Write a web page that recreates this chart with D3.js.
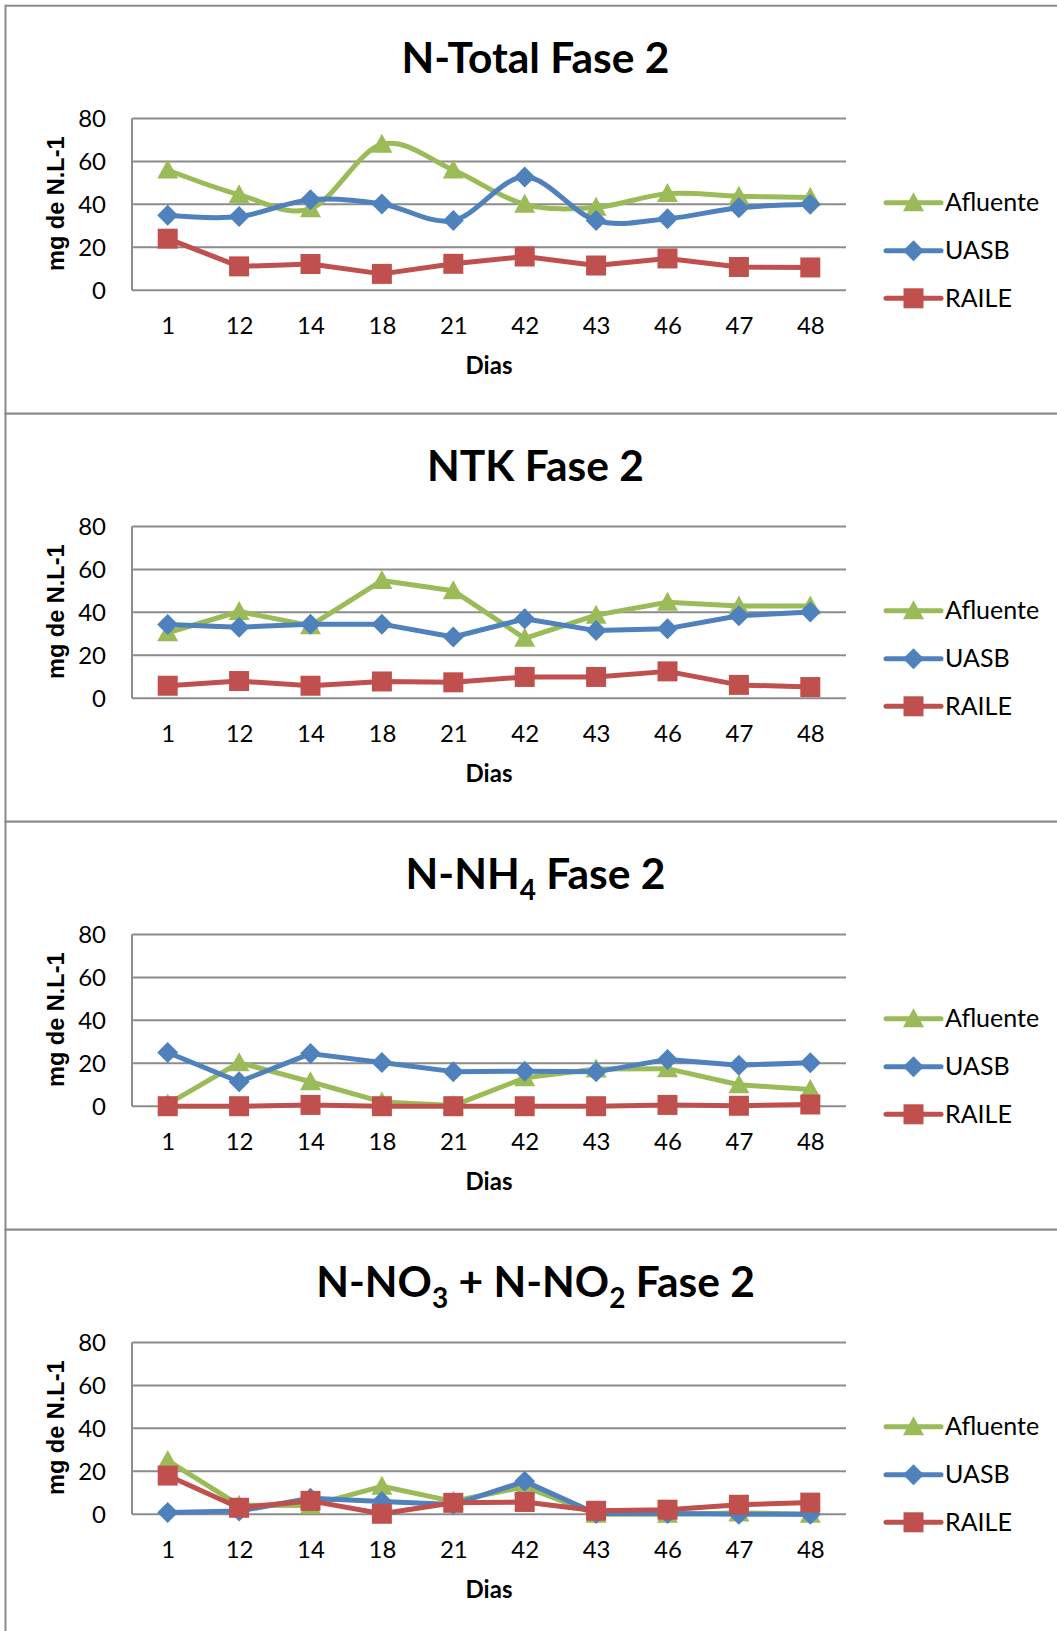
<!DOCTYPE html>
<html>
<head>
<meta charset="utf-8">
<script src="https://cdn.jsdelivr.net/npm/d3@7"></script>
<style>
  body { margin: 0; background: #fff; }
  svg { display: block; }
</style>
</head>
<body>
<svg id="chart" width="1057" height="1631"></svg>
<script>
// Sampling days (x categories) and y-axis ticks
const categories = ["1", "12", "14", "18", "21", "42", "43", "46", "47", "48"];
const yTicks = [0, 20, 40, 60, 80];
const seriesNames = ["Afluente", "UASB", "RAILE"];

// N-Total, Fase 2 (mg N/L)
const nTotalAfluente = [56, 44.5, 38, 68, 56, 40, 38.6, 45, 43.8, 43.2];
const nTotalUasb     = [34.9, 34.3, 42.2, 40.2, 32.5, 52.7, 32.5, 33.3, 38.4, 40.1];
const nTotalRaile    = [24, 11.1, 12.2, 7.6, 12.3, 15.7, 11.5, 14.8, 10.8, 10.6];

// NTK, Fase 2
const ntkAfluente = [30.5, 40.4, 33.8, 54.8, 50.1, 27.9, 38.7, 44.7, 43, 43];
const ntkUasb     = [34.3, 33.1, 34.5, 34.5, 28.5, 37, 31.5, 32.4, 38.4, 40.2];
const ntkRaile    = [5.8, 8, 5.8, 7.8, 7.4, 9.9, 9.9, 12.5, 6.2, 5.2];

// N-NH4, Fase 2
const nh4Afluente = [1, 20.3, 11.4, 2, 0.3, 13.2, 17.3, 17.5, 10, 7.8];
const nh4Uasb     = [25, 11.4, 24.5, 20.4, 16.1, 16.3, 16, 21.8, 19.1, 20.3];
const nh4Raile    = [0, 0, 0.6, 0, 0, 0, 0, 0.6, 0.2, 0.8];

// N-NO3 + N-NO2, Fase 2
const noxAfluente = [25, 4.2, 4, 13, 6, 12.8, 0, 0, 0.6, 0];
const noxUasb     = [0.8, 1.5, 7.4, 5.9, 4.5, 15.3, 0.3, 0.3, 0, 0];
const noxRaile    = [18, 3, 6.2, 0.2, 5.3, 5.7, 1.6, 2.1, 4.4, 5.4];

// Chart titles, split into normal / subscript pieces
const titleNTotal = [["N-Total Fase 2", false]];
const titleNtk    = [["NTK Fase 2", false]];
const titleNh4    = [["N-NH", false], ["4", true], [" Fase 2", false]];
const titleNox    = [["N-NO", false], ["3", true], [" + N-NO", false], ["2", true], [" Fase 2", false]];

const panels = [
  { title: titleNTotal, values: [nTotalAfluente, nTotalUasb, nTotalRaile], smooth: [true, true, false] },
  { title: titleNtk,    values: [ntkAfluente, ntkUasb, ntkRaile],          smooth: [false, false, false] },
  { title: titleNh4,    values: [nh4Afluente, nh4Uasb, nh4Raile],          smooth: [false, false, false] },
  { title: titleNox,    values: [noxAfluente, noxUasb, noxRaile],          smooth: [false, false, false] }
];

const colors = ["#9BBB59", "#4F81BD", "#C0504D"];
const markers = ["triangle", "diamond", "square"];

const FONT = "Lato, 'Open Sans', sans-serif";
const svg = d3.select("#chart");

const panelH = 408;
const panelTop0 = 5.7;
const plot = { left: 132, right: 846, top: 112.8, bottom: 284.5 };

const x = d3.scalePoint().domain(categories).range([plot.left, plot.right]).padding(0.5);

function markerPath(kind, cx, cy) {
  if (kind === "triangle") {
    return `M${cx},${cy - 10.5}L${cx + 10.5},${cy + 8.5}L${cx - 10.5},${cy + 8.5}Z`;
  }
  if (kind === "diamond") {
    return `M${cx},${cy - 10.5}L${cx + 10.5},${cy}L${cx},${cy + 10.5}L${cx - 10.5},${cy}Z`;
  }
  return `M${cx - 10},${cy - 10}h20v20h-20Z`;
}

panels.forEach((p, i) => {
  const top = panelTop0 + i * panelH;
  const g = svg.append("g").attr("transform", `translate(0,${top})`);

  // panel frame (runs past the right edge)
  g.append("rect")
    .attr("x", 5.5).attr("y", 0)
    .attr("width", 1120).attr("height", panelH)
    .attr("fill", "#fff")
    .attr("stroke", "#8a8a8a").attr("stroke-width", 2);

  const y = d3.scaleLinear().domain([0, 80]).range([plot.bottom, plot.top]);

  // title
  const t = g.append("text")
    .attr("x", 535.5).attr("y", 67)
    .attr("text-anchor", "middle")
    .attr("font-family", FONT).attr("font-weight", 700)
    .attr("font-size", 42.5).attr("fill", "#000");
  let shifted = false;
  p.title.forEach(([txt, sub]) => {
    const ts = t.append("tspan").text(txt);
    if (sub && !shifted) { ts.attr("dy", 11).attr("font-size", 28); shifted = true; }
    else if (!sub && shifted) { ts.attr("dy", -11); shifted = false; }
    else if (sub) { ts.attr("font-size", 28); }
  });

  // gridlines
  g.append("g").selectAll("line").data(yTicks).join("line")
    .attr("x1", plot.left).attr("x2", plot.right)
    .attr("y1", d => y(d)).attr("y2", d => y(d))
    .attr("stroke", "#8c8c8c").attr("stroke-width", 2);

  // y axis line
  g.append("line")
    .attr("x1", plot.left).attr("x2", plot.left)
    .attr("y1", y(80)).attr("y2", y(0))
    .attr("stroke", "#8c8c8c").attr("stroke-width", 2);

  // y tick labels
  const yAxis = d3.axisLeft(y).tickValues(yTicks).tickSize(0).tickPadding(0).tickFormat(d3.format("d"));
  const ya = g.append("g").attr("transform", `translate(106,0)`).call(yAxis);
  ya.select(".domain").remove();
  ya.selectAll("text")
    .attr("font-family", FONT).attr("font-size", 24).attr("fill", "#000")
    .attr("dy", "0.35em");

  // x tick labels
  const xAxis = d3.axisBottom(x).tickSize(0).tickPadding(0);
  const xa = g.append("g").attr("transform", `translate(0,320)`).call(xAxis);
  xa.select(".domain").remove();
  xa.selectAll("text")
    .attr("font-family", FONT).attr("font-size", 24).attr("fill", "#000")
    .attr("dy", "0.35em");

  // axis titles
  g.append("text")
    .attr("x", 489).attr("y", 368)
    .attr("text-anchor", "middle")
    .attr("font-family", FONT).attr("font-weight", 700).attr("font-size", 24)
    .text("Dias");

  g.append("text")
    .attr("transform", `translate(64,198) rotate(-90)`)
    .attr("text-anchor", "middle")
    .attr("font-family", "'Liberation Sans', Arial, sans-serif").attr("font-weight", 700)
    .attr("font-size", 23.5)
    .text("mg de N.L-1");

  // series
  p.values.forEach((vals, s) => {
    const line = d3.line()
      .x((d, k) => x(categories[k]))
      .y(d => y(d))
      .curve(p.smooth[s] ? d3.curveCardinal.tension(0) : d3.curveLinear);
    g.append("path")
      .attr("d", line(vals))
      .attr("fill", "none")
      .attr("stroke", colors[s]).attr("stroke-width", 5)
      .attr("stroke-linejoin", "round").attr("stroke-linecap", "round");
    g.append("g").selectAll("path").data(vals).join("path")
      .attr("d", (d, k) => markerPath(markers[s], x(categories[k]), y(d)))
      .attr("fill", colors[s]);
  });

  // legend
  const lg = g.append("g");
  const legendRows = [197, 245, 292.6];
  seriesNames.forEach((name, s) => {
    const ly = legendRows[s];
    lg.append("line")
      .attr("x1", 886).attr("x2", 941).attr("y1", ly).attr("y2", ly)
      .attr("stroke", colors[s]).attr("stroke-width", 5).attr("stroke-linecap", "round");
    lg.append("path").attr("d", markerPath(markers[s], 913.5, ly)).attr("fill", colors[s]);
    lg.append("text")
      .attr("x", 945).attr("y", ly).attr("dy", "0.35em")
      .attr("font-family", FONT).attr("font-size", 25).attr("fill", "#000")
      .text(name);
  });
});
</script>
</body>
</html>
